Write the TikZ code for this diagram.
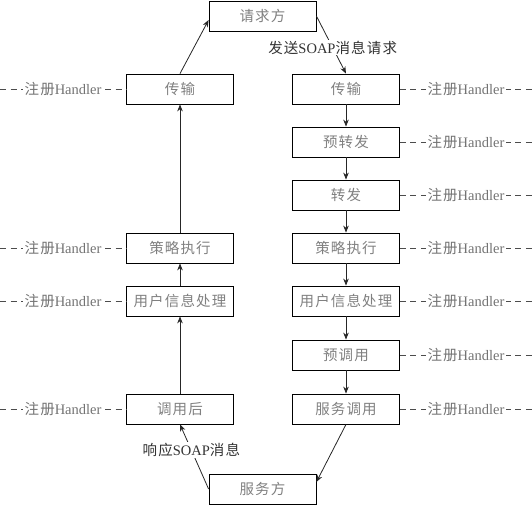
\documentclass[tikz,border=0pt]{standalone}
\usepackage{fontspec}
\usetikzlibrary{arrows.meta}
\setmainfont{Liberation Serif}
\newfontfamily\cjk[LetterSpace=8]{Noto Sans CJK SC}

\begin{document}
\begin{tikzpicture}[
  x=1pt, y=-1pt,
  font=\fontsize{14.5}{16}\selectfont,
  box/.style={draw, thick, minimum width=107pt, minimum height=30pt,
              inner sep=0pt, text=black!50},
  reg/.style={fill=white, inner sep=1.5pt, text=black!55},
  arr/.style={-{Stealth[length=7pt, width=5.5pt]}, line width=0.8pt, black!85},
  hdl/.style={semithick, black!70, dash pattern=on 6pt off 4.5pt},
  edglab/.style={fill=white, inner sep=1pt, text=black!80}
]
  \useasboundingbox (0,0) rectangle (532,505);
  %% --- End points of the exchange ---
  \node[box, minimum height=30pt] (req) at (262.5,16) {\cjk 请求方};
  \node[box, minimum height=30pt] (srv) at (262.5,489) {\cjk 服务方};
  %% --- Request chain (right column) ---
  \node[box] (rtr) at (346,89)  {\cjk 传输};
  \node[box] (pre) at (346,142) {\cjk 预转发};
  \node[box] (fwd) at (346,195) {\cjk 转发};
  \node[box] (rpo) at (346,248) {\cjk 策略执行};
  \node[box] (rus) at (346,301) {\cjk 用户信息处理};
  \node[box] (pin) at (346,355) {\cjk 预调用};
  \node[box] (inv) at (346,409) {\cjk 服务调用};
  %% --- Response chain (left column) ---
  \node[box] (ltr) at (180,89)  {\cjk 传输};
  \node[box] (lpo) at (180,248) {\cjk 策略执行};
  \node[box] (lus) at (180,301) {\cjk 用户信息处理};
  \node[box] (aft) at (180,409) {\cjk 调用后};
  %% --- Handler registration ---
  \coordinate (h1) at (0,89);   \coordinate (g1) at (532,89);
  \coordinate (h4) at (0,248);  \coordinate (g2) at (532,142);
  \coordinate (h5) at (0,301);  \coordinate (g3) at (532,195);
  \coordinate (h7) at (0,409);  \coordinate (g4) at (532,248);
                                \coordinate (g5) at (532,301);
                                \coordinate (g6) at (532,355);
                                \coordinate (g7) at (532,409);
  \draw[hdl] (h1) -- node[reg] {{\cjk 注册}Handler} (ltr.west);
  \draw[hdl] (h4) -- node[reg] {{\cjk 注册}Handler} (lpo.west);
  \draw[hdl] (h5) -- node[reg] {{\cjk 注册}Handler} (lus.west);
  \draw[hdl] (h7) -- node[reg] {{\cjk 注册}Handler} (aft.west);
  \draw[hdl] (rtr.east) -- node[reg] {{\cjk 注册}Handler} (g1);
  \draw[hdl] (pre.east) -- node[reg] {{\cjk 注册}Handler} (g2);
  \draw[hdl] (fwd.east) -- node[reg] {{\cjk 注册}Handler} (g3);
  \draw[hdl] (rpo.east) -- node[reg] {{\cjk 注册}Handler} (g4);
  \draw[hdl] (rus.east) -- node[reg] {{\cjk 注册}Handler} (g5);
  \draw[hdl] (pin.east) -- node[reg] {{\cjk 注册}Handler} (g6);
  \draw[hdl] (inv.east) -- node[reg] {{\cjk 注册}Handler} (g7);
  %% --- Request flow ---
  \draw[arr] (req.east) -- node[edglab, pos=0.55] {{\cjk 发送}SOAP{\cjk 消息请求}} (rtr.north);
  \draw[arr] (rtr) -- (pre);
  \draw[arr] (pre) -- (fwd);
  \draw[arr] (fwd) -- (rpo);
  \draw[arr] (rpo) -- (rus);
  \draw[arr] (rus) -- (pin);
  \draw[arr] (pin) -- (inv);
  \draw[arr] (inv.south) -- ([yshift=7pt]srv.east);
  %% --- Response flow ---
  \draw[arr] (srv.west) -- node[edglab, pos=0.6] {{\cjk 响应}SOAP{\cjk 消息}} (aft.south);
  \draw[arr] (aft) -- (lus);
  \draw[arr] (lus) -- (lpo);
  \draw[arr] (lpo) -- (ltr);
  \draw[arr] (ltr.north) -- ([yshift=-4pt]req.west);
\end{tikzpicture}
\end{document}
